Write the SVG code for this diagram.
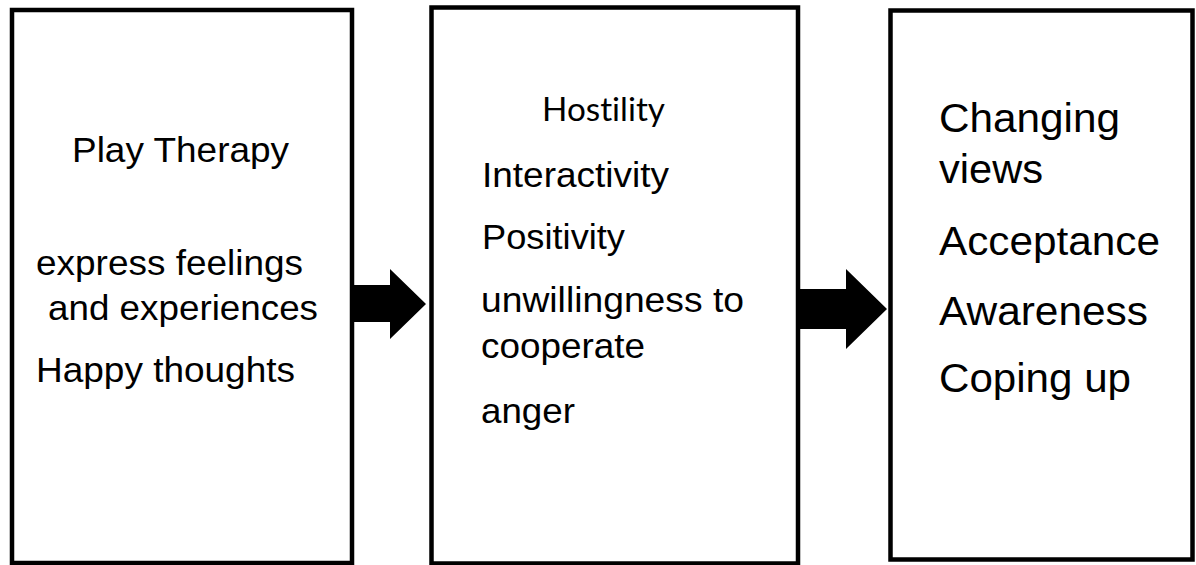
<svg xmlns="http://www.w3.org/2000/svg" width="1196" height="565" viewBox="0 0 1196 565">
<style>
.box{fill:#fff;stroke:#000;stroke-width:4.5}
.t{font-family:"Liberation Sans",Arial,sans-serif;font-size:35px;fill:#000}
.t3{font-family:"Liberation Sans",Arial,sans-serif;font-size:40px;fill:#000}
.c{font-family:Lato,"Open Sans",sans-serif;font-size:33px;fill:#000;font-variant-ligatures:none;font-feature-settings:"liga" 0}
.arrow{fill:#000}
</style>
<rect width="1196" height="565" fill="#fff"/>
<g id="node-play-therapy">
<rect class="box" x="12" y="10" width="340" height="553"/>
<text class="t" x="72" y="162" textLength="217" lengthAdjust="spacingAndGlyphs">Play Therapy</text>
<text class="t" x="36" y="275" textLength="267" lengthAdjust="spacingAndGlyphs">express feelings</text>
<text class="t" x="48" y="320" textLength="270" lengthAdjust="spacingAndGlyphs">and experiences</text>
<text class="t" x="36" y="382" textLength="259" lengthAdjust="spacingAndGlyphs">Happy thoughts</text>
</g>
<g id="node-hostility">
<rect class="box" x="431.5" y="7.5" width="366.5" height="556"/>
<text class="c" x="542" y="121" textLength="123" lengthAdjust="spacingAndGlyphs">Hostility</text>
<text class="t" x="482" y="187" textLength="187" lengthAdjust="spacingAndGlyphs">Interactivity</text>
<text class="t" x="482" y="249" textLength="143" lengthAdjust="spacingAndGlyphs">Positivity</text>
<text class="t" x="481" y="312" textLength="263" lengthAdjust="spacingAndGlyphs">unwillingness to</text>
<text class="t" x="481" y="358" textLength="164" lengthAdjust="spacingAndGlyphs">cooperate</text>
<text class="t" x="481" y="423" textLength="94" lengthAdjust="spacingAndGlyphs">anger</text>
</g>
<g id="node-outcomes">
<rect class="box" x="890.5" y="10.5" width="302" height="549"/>
<text class="t3" x="939" y="132" textLength="181" lengthAdjust="spacingAndGlyphs">Changing</text>
<text class="t3" x="939" y="183" textLength="104" lengthAdjust="spacingAndGlyphs">views</text>
<text class="t3" x="939" y="255" textLength="221" lengthAdjust="spacingAndGlyphs">Acceptance</text>
<text class="t3" x="939" y="325" textLength="209" lengthAdjust="spacingAndGlyphs">Awareness</text>
<text class="t3" x="939" y="392" textLength="192" lengthAdjust="spacingAndGlyphs">Coping up</text>
</g>
<g id="connectors">
<polygon class="arrow" points="354,285 390,285 390,269 426,304 390,339 390,322 354,322"/>
<polygon class="arrow" points="800,289 846,289 846,269 887,309 846,349 846,329 800,329"/>
</g>
</svg>
